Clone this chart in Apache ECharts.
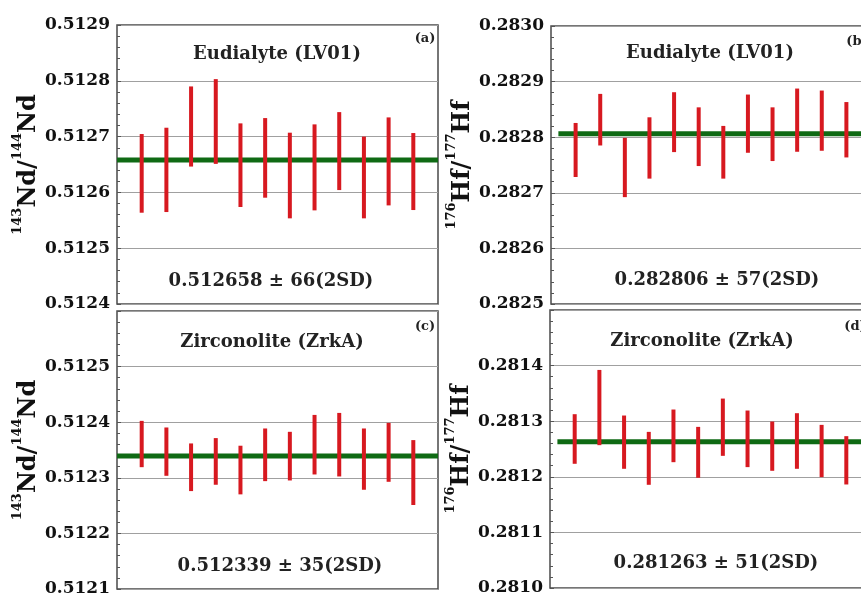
<!DOCTYPE html>
<html>
<head>
<meta charset="utf-8">
<script src="https://cdn.jsdelivr.net/npm/echarts@6/dist/echarts.min.js"></script>
<style>
  html, body { margin: 0; padding: 0; background: #fff; }
  #chart { width: 861px; height: 594px; }
</style>
</head>
<body>
<div id="chart"></div>
<script>
// spot index 1..12 on x, ratio bars are low..high
const spots = [1, 2, 3, 4, 5, 6, 7, 8, 9, 10, 11, 12]

const ndEudLow = [0.5125636, 0.5125648, 0.5126463, 0.5126511, 0.5125738, 0.5125905, 0.5125535, 0.5125678, 0.5126042, 0.5125535, 0.5125767, 0.5125684]
const ndEudHigh = [0.5127046, 0.5127159, 0.5127899, 0.5128030, 0.5127237, 0.5127332, 0.5127070, 0.5127219, 0.5127439, 0.5127000, 0.5127344, 0.5127064]
const hfEudLow = [0.2827284, 0.2827851, 0.2826922, 0.2827255, 0.2827732, 0.2827481, 0.2827255, 0.2827720, 0.2827571, 0.2827738, 0.2827756, 0.2827636]
const hfEudHigh = [0.2828256, 0.2828779, 0.2827988, 0.2828358, 0.2828809, 0.2828537, 0.2828203, 0.2828767, 0.2828537, 0.2828875, 0.2828839, 0.2828632]
const ndZrkLow = [0.5123191, 0.5123036, 0.5122761, 0.5122875, 0.5122702, 0.5122940, 0.5122952, 0.5123060, 0.5123024, 0.5122785, 0.5122928, 0.5122511]
const ndZrkHigh = [0.5124024, 0.5123905, 0.5123618, 0.5123714, 0.5123577, 0.5123887, 0.5123827, 0.5124131, 0.5124167, 0.5123887, 0.5123988, 0.5123678]
const hfZrkLow = [0.2812234, 0.2812569, 0.2812144, 0.2811856, 0.2812263, 0.2811982, 0.2812377, 0.2812174, 0.2812108, 0.2812144, 0.2811994, 0.2811862]
const hfZrkHigh = [0.2813126, 0.2813922, 0.2813102, 0.2812808, 0.2813210, 0.2812898, 0.2813407, 0.2813192, 0.2812994, 0.2813144, 0.2812934, 0.2812731]

const means = [0.512658, 0.282806, 0.512339, 0.281263]
const meanStart = [0, 0.3, 0, 0.3]
const yMin = [0.5124, 0.2825, 0.5121, 0.2810]
const yMax = [0.5129, 0.2830, 0.5126, 0.2815]
const titles = ['Eudialyte (LV01)', 'Eudialyte (LV01)', 'Zirconolite (ZrkA)', 'Zirconolite (ZrkA)']
const results = ['0.512658 ± 66(2SD)', '0.282806 ± 57(2SD)', '0.512339 ± 35(2SD)', '0.281263 ± 51(2SD)']
const tags = ['(a)', '(b)', '(c)', '(d)']
const yNames = ['{sup|143}{main|Nd/}{sup|144}{main|Nd}', '{sup|176}{main|Hf/}{sup|177}{main|Hf}',
  '{sup|143}{main|Nd/}{sup|144}{main|Nd}', '{sup|176}{main|Hf/}{sup|177}{main|Hf}']

const lows = [ndEudLow, hfEudLow, ndZrkLow, hfZrkLow]
const highs = [ndEudHigh, hfEudHigh, ndZrkHigh, hfZrkHigh]

const FONT = 'DejaVu Serif'
const RED = '#d71920'
const GREEN = '#0f6a14'

// panel boxes in px (right-hand panels run past the page edge, as in the source figure)
const boxes = [
  { left: 117, top: 25, width: 321, height: 279 },
  { left: 551, top: 26, width: 320, height: 278 },
  { left: 117, top: 311, width: 321, height: 278 },
  { left: 550, top: 310, width: 321, height: 278 }
]
const titlePos = [[277, 54], [710, 53], [272, 342], [702, 341]]
const resultPos = [[271, 281], [717, 280], [280, 566], [716, 563]]
const tagPos = [[425, 39], [857, 42], [425, 327], [855, 327]]

const chart = echarts.init(document.getElementById('chart'))

const grid = boxes.map(b => ({
  left: b.left, top: b.top, width: b.width, height: b.height,
  outerBoundsMode: 'none',
  show: true, borderColor: '#4a4a4a', borderWidth: 1.5, backgroundColor: 'transparent'
}))

const xAxis = boxes.map((b, i) => ({
  gridIndex: i, type: 'value', min: 0, max: 13, show: false
}))

const yAxis = boxes.map((b, i) => ({
  gridIndex: i,
  type: 'value',
  min: yMin[i],
  max: yMax[i],
  interval: 0.0001,
  name: yNames[i],
  nameLocation: 'middle',
  nameRotate: 90,
  nameGap: 76,
  nameTextStyle: {
    rich: {
      main: { fontFamily: FONT, fontWeight: 'bold', fontSize: 24, color: '#111', lineHeight: 30, verticalAlign: 'bottom' },
      sup: { fontFamily: FONT, fontWeight: 'bold', fontSize: 13, color: '#111', lineHeight: 30, verticalAlign: 'top' }
    }
  },
  axisLine: { show: false },
  axisTick: { show: true, inside: true, length: 4, lineStyle: { color: '#555' } },
  minorTick: { show: true, splitNumber: 5, length: 3, lineStyle: { color: '#555' } },
  splitLine: { show: true, lineStyle: { color: '#a0a0a0', width: 1 } },
  axisLabel: {
    margin: 7,
    fontFamily: FONT, fontWeight: 'bold', fontSize: 17, color: '#111',
    showMaxLabel: i < 2,
    formatter: v => v.toFixed(4)
  }
}))

const series = []
boxes.forEach((b, i) => {
  series.push({
    type: 'custom',
    xAxisIndex: i, yAxisIndex: i,
    data: spots.map((s, k) => [s, lows[i][k], highs[i][k]]),
    renderItem: (params, api) => {
      const p0 = api.coord([api.value(0), api.value(1)])
      const p1 = api.coord([api.value(0), api.value(2)])
      return {
        type: 'line',
        shape: { x1: p0[0], y1: p0[1], x2: p1[0], y2: p1[1] },
        style: { stroke: RED, lineWidth: 4 }
      }
    },
    z: 3
  })
  series.push({
    type: 'line',
    xAxisIndex: i, yAxisIndex: i,
    data: [[meanStart[i], means[i]], [13, means[i]]],
    symbol: 'none',
    lineStyle: { color: GREEN, width: 5 },
    z: 2
  })
})

const graphic = []
boxes.forEach((b, i) => {
  graphic.push({
    type: 'text', x: titlePos[i][0], y: titlePos[i][1],
    style: { text: titles[i], font: 'bold 18px "DejaVu Serif"', fill: '#222', align: 'center', verticalAlign: 'middle' }
  })
  graphic.push({
    type: 'text', x: resultPos[i][0], y: resultPos[i][1],
    style: { text: results[i], font: 'bold 18px "DejaVu Serif"', fill: '#222', align: 'center', verticalAlign: 'middle' }
  })
  graphic.push({
    type: 'text', x: tagPos[i][0], y: tagPos[i][1],
    style: { text: tags[i], font: 'bold 13px "DejaVu Serif"', fill: '#222', align: 'center', verticalAlign: 'middle' }
  })
})

chart.setOption({
  animation: false,
  grid, xAxis, yAxis, series, graphic
})
</script>
</body>
</html>
